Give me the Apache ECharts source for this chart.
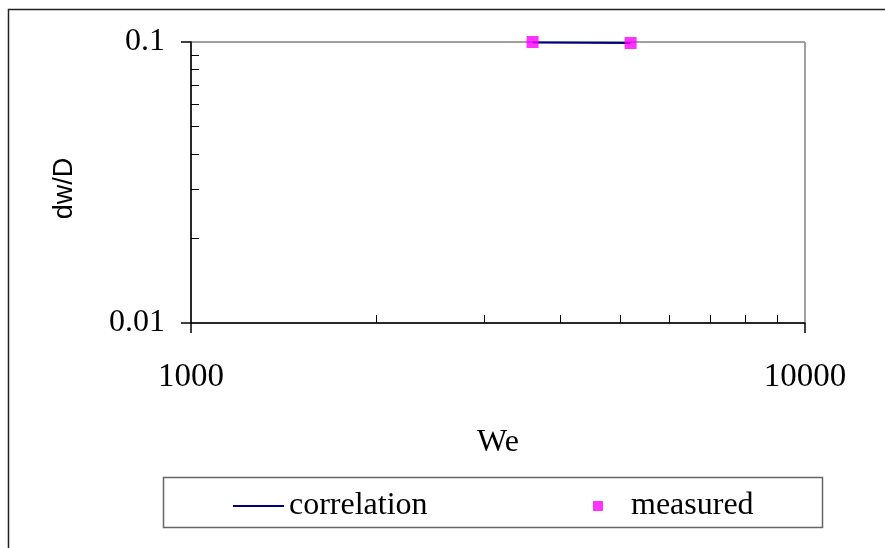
<!DOCTYPE html>
<html>
<head>
<meta charset="utf-8">
<script src="https://cdn.jsdelivr.net/npm/echarts@6/dist/echarts.min.js"></script>
<style>
  html, body { margin: 0; padding: 0; background: #fff; }
  #chart { width: 885px; height: 548px; }
</style>
</head>
<body>
<div id="chart"></div>
<script>
// values
var weValues = [3600, 5200];
var measuredDw = [0.1, 0.0992];
var correlationDw = [0.0995, 0.0992];
var xMinorTicks = [2000, 3000, 4000, 5000, 6000, 7000, 8000, 9000];
var yMinorTicks = [0.02, 0.03, 0.04, 0.05, 0.06, 0.07, 0.08, 0.09];

var serif = 'Liberation Serif, Times New Roman, serif';

var chart = echarts.init(document.getElementById('chart'));

var measured = weValues.map(function (x, i) { return [x, measuredDw[i]]; });
var correlation = weValues.map(function (x, i) { return [x, correlationDw[i]]; });

var option = {
    animation: false,
    backgroundColor: '#fff',
    grid: { left: 191, top: 42, right: 80, bottom: 225, containLabel: false },
    xAxis: [{
        type: 'log', logBase: 10, min: 1000, max: 10000,
        position: 'bottom',
        name: 'We', nameLocation: 'middle', nameGap: 104,
        nameTextStyle: { fontFamily: serif, fontSize: 32, color: '#000' },
        axisLine: { lineStyle: { color: '#000', width: 1.5 } },
        axisTick: { inside: false, length: 10, lineStyle: { color: '#000', width: 1.5 } },
        axisLabel: {
            margin: 38, fontFamily: serif, fontSize: 33, color: '#000',
            formatter: function (v) { return String(v); }
        },
        splitLine: { show: true, lineStyle: { color: '#a0a0a0', width: 2 } }
    }, {
        // minor ticks 2000..9000
        type: 'log', logBase: 10, min: 1000, max: 10000,
        position: 'bottom',
        axisLine: { show: false },
        axisTick: { inside: true, length: 8, customValues: xMinorTicks,
            lineStyle: { color: '#000', width: 1 } },
        axisLabel: { show: false },
        splitLine: { show: false }
    }],
    yAxis: [{
        type: 'log', logBase: 10, min: 0.01, max: 0.1,
        position: 'left',
        name: 'dw/D', nameLocation: 'middle', nameGap: 113,
        nameTextStyle: { fontFamily: 'Liberation Sans, Arial, sans-serif', fontSize: 27, color: '#000',
            padding: [0, 12, 0, 0] },
        axisLine: { show: true, lineStyle: { color: '#000', width: 1.5 } },
        axisTick: { show: true, inside: false, length: 10, lineStyle: { color: '#000', width: 1.5 } },
        axisLabel: { margin: 26, fontFamily: serif, fontSize: 32, color: '#000' },
        splitLine: { show: true, lineStyle: { color: '#a0a0a0', width: 2 } }
    }, {
        // minor ticks 0.02..0.09
        type: 'log', logBase: 10, min: 0.01, max: 0.1,
        position: 'left',
        axisLine: { show: false },
        axisTick: { show: true, inside: true, length: 8, customValues: yMinorTicks,
            lineStyle: { color: '#000', width: 1 } },
        axisLabel: { show: false },
        splitLine: { show: false }
    }],
    legend: [{
        data: [{ name: 'correlation', icon: 'rect' }],
        left: 233, top: 490,
        padding: 0,
        itemWidth: 51, itemHeight: 2, itemGap: 0,
        textStyle: { fontFamily: serif, fontSize: 32, color: '#000' }
    }, {
        data: [{ name: 'measured', icon: 'rect' }],
        left: 593, top: 490,
        padding: 0,
        itemWidth: 10, itemHeight: 10, itemGap: 0,
        textStyle: { fontFamily: serif, fontSize: 32, color: '#000', padding: [0, 0, 0, 23] }
    }],
    graphic: [{
        type: 'rect', silent: true,
        shape: { x: 8.5, y: 9.5, width: 1000, height: 1000 },
        style: { fill: null, stroke: '#222', lineWidth: 1.5 }
    }, {
        type: 'rect', silent: true,
        shape: { x: 163.5, y: 477.5, width: 659, height: 50 },
        style: { fill: null, stroke: '#666', lineWidth: 1.5 }
    }],
    series: [{
        name: 'correlation',
        type: 'line',
        data: correlation,
        symbol: 'none',
        clip: false,
        lineStyle: { color: '#000080', width: 2 },
        itemStyle: { color: '#000080' },
        z: 3
    }, {
        name: 'measured',
        type: 'scatter',
        data: measured,
        symbol: 'rect',
        symbolSize: 12,
        clip: false,
        itemStyle: { color: '#ff00ff' },
        z: 4
    }]
};

chart.setOption(option);
</script>
</body>
</html>
